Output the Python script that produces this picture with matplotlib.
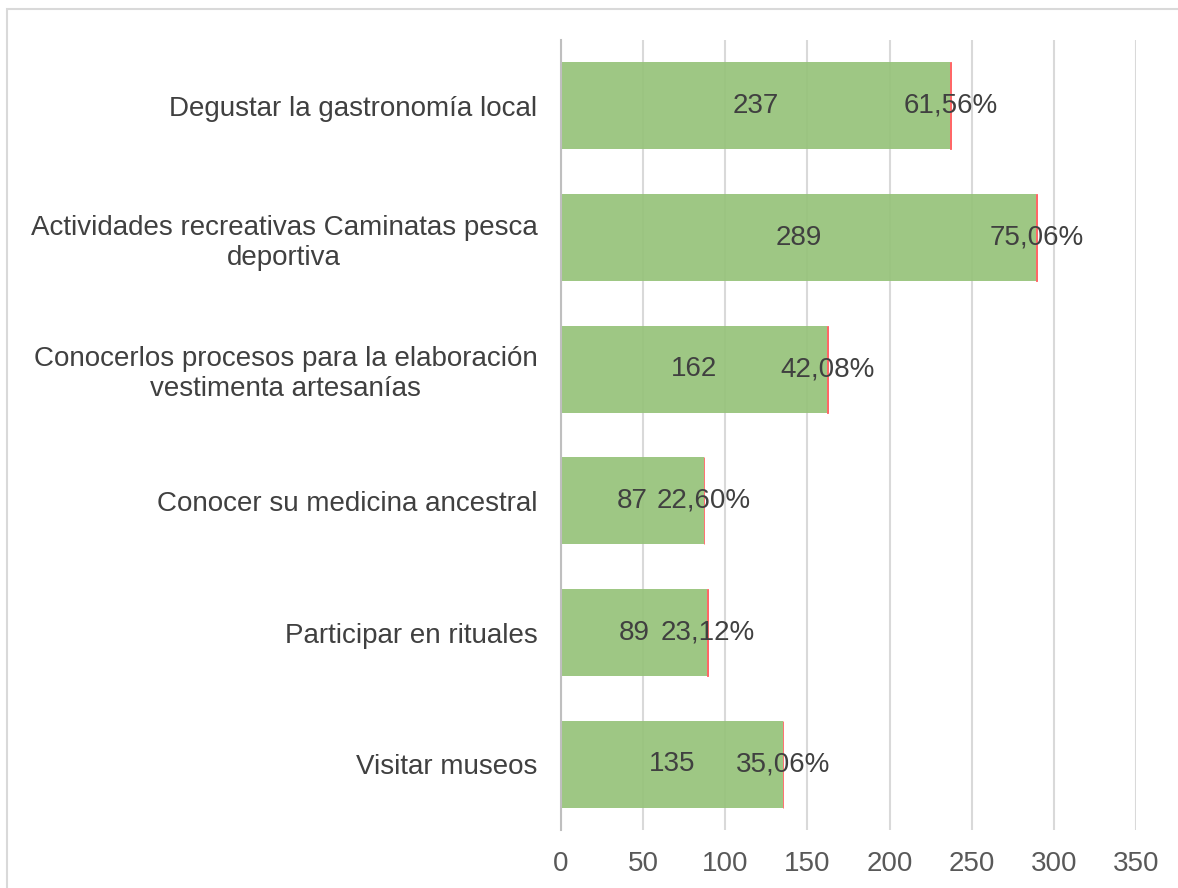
import matplotlib.pyplot as plt
from matplotlib.patches import Rectangle

plt.rcParams['font.family'] = ['Liberation Sans', 'DejaVu Sans']

categories = [
    "Degustar la gastronomía local",
    "Actividades recreativas Caminatas pesca\ndeportiva",
    "Conocerlos procesos para la elaboración\nvestimenta artesanías",
    "Conocer su medicina ancestral",
    "Participar en rituales",
    "Visitar museos",
]
counts = [237, 289, 162, 87, 89, 135]
percents = [61.56, 75.06, 42.08, 22.60, 23.12, 35.06]
xticks = [0, 50, 100, 150, 200, 250, 300, 350]

fig = plt.figure(figsize=(11.78, 8.88), dpi=100)
ax = fig.add_axes([561 / 1178, 1 - 830 / 888, 575 / 1178, 790 / 888])

# outer chart border (cut off at right and bottom like the original)
fig.add_artist(Rectangle((7 / 1178, -0.1), 1.2, 1.1 - 9 / 888,
                         transform=fig.transFigure, fill=False,
                         edgecolor='#d9d9d9', linewidth=1.5))

n = len(categories)
ypos = list(range(n))
pct_frac = [p / 100 for p in percents]

ax.set_axisbelow(True)
ax.grid(axis='x', color='#d9d9d9', linewidth=1.5)
ax.barh(ypos, counts, height=0.66, color='#97c37b', alpha=0.93, zorder=2)
ax.barh(ypos, pct_frac, left=counts, height=0.66, color='#ff5a5a',
        edgecolor='#ff5a5a', linewidth=0.6, zorder=2)

for y, c, p, f in zip(ypos, counts, percents, pct_frac):
    ax.text(c / 2, y, str(c), ha='center', va='center', fontsize=20, color='#404040', zorder=3)
    ax.text(c + f / 2, y, f"{p:.2f}%".replace('.', ','), ha='center', va='center',
            fontsize=20, color='#404040', zorder=3)

ax.set_xlim(0, 350)
ax.set_ylim(n - 0.5, -0.5)
ax.set_xticks(xticks)
ax.set_xticklabels([str(t) for t in xticks])
ax.set_yticks(ypos)
ax.set_yticklabels(categories, fontsize=20, color='#404040', ha='right', multialignment='center')
ax.tick_params(axis='y', length=0, pad=17)
ax.tick_params(axis='x', length=0, labelsize=20, labelcolor='#595959', pad=15)
for s in ['top', 'right', 'bottom']:
    ax.spines[s].set_visible(False)
ax.spines['left'].set_color('#bfbfbf')
ax.spines['left'].set_linewidth(1.5)

fig.savefig('out.png', dpi=100)
